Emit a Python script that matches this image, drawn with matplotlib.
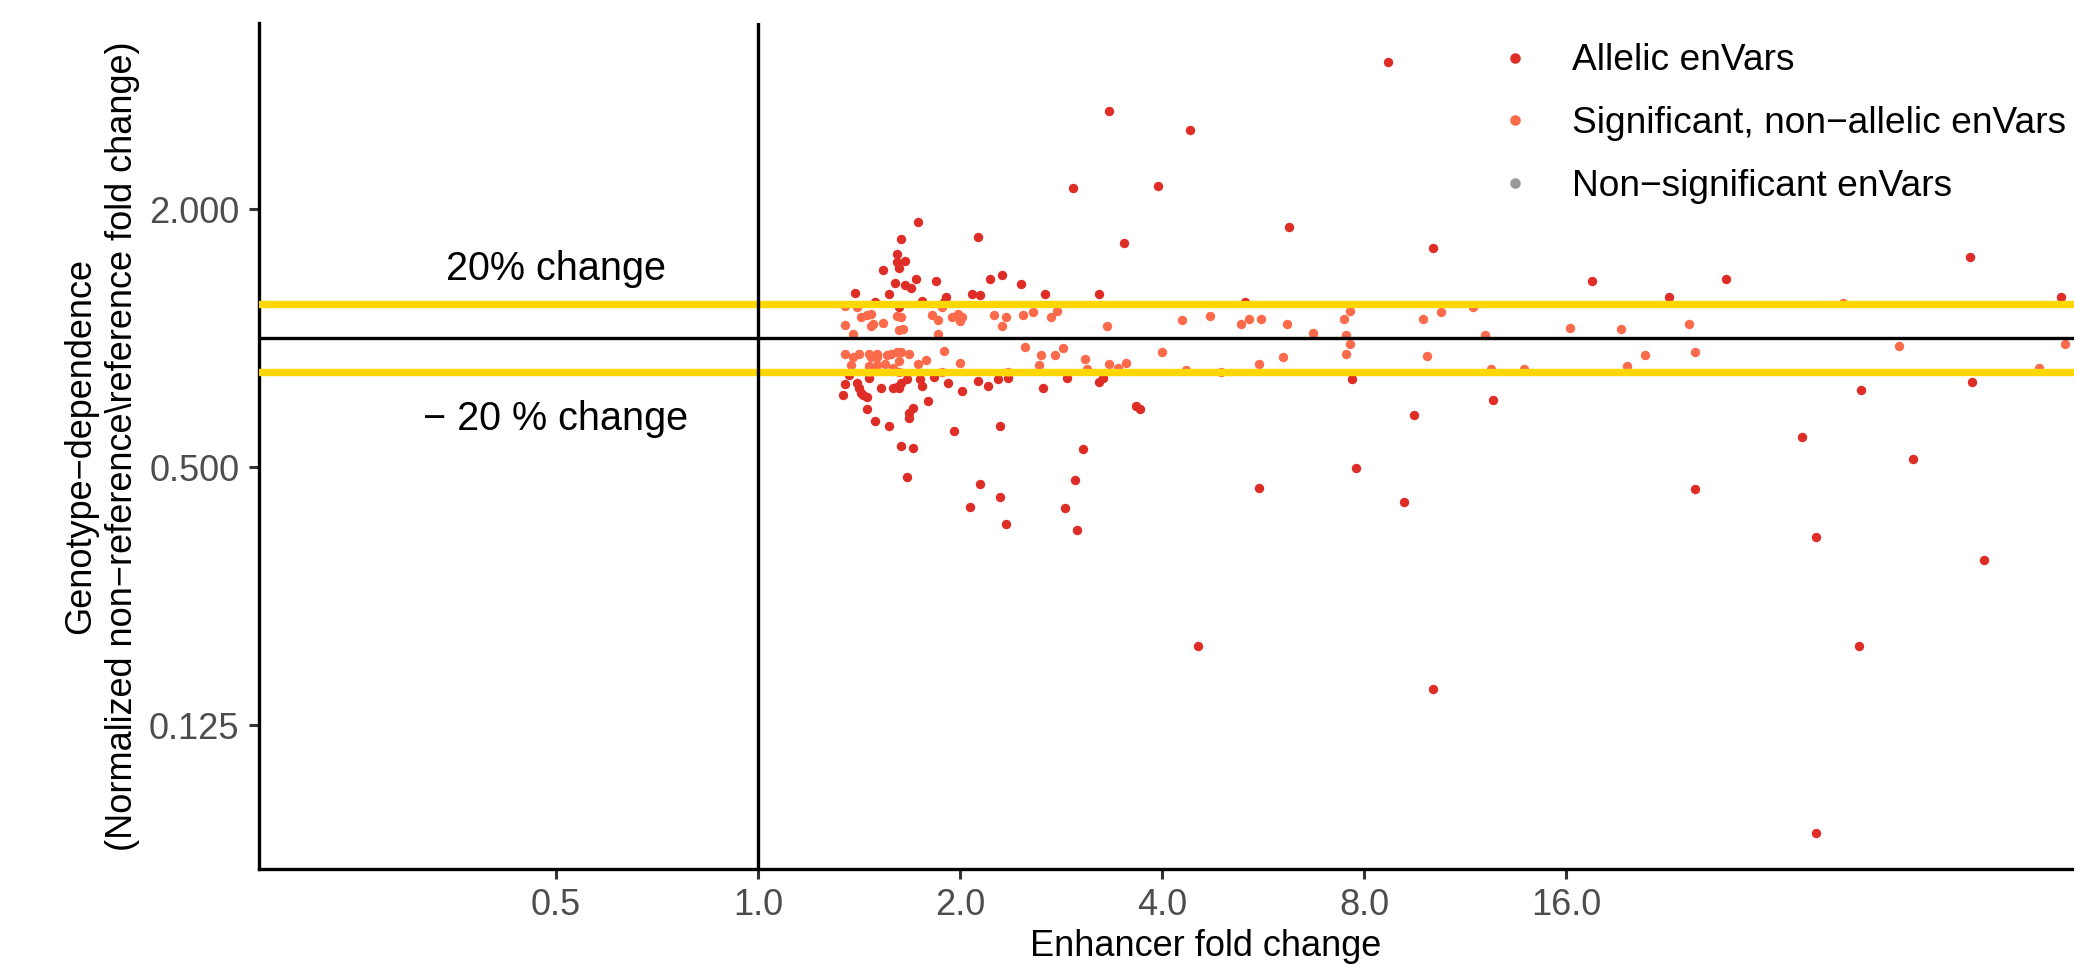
import numpy as np
import matplotlib
matplotlib.use("Agg")
import matplotlib.pyplot as plt
from matplotlib.lines import Line2D

plt.rcParams['font.family'] = ['Liberation Sans', 'DejaVu Sans']

# ---------------- data (log2 values) ----------------
# Allelic enVars
allelic_log2_fc = [1.74, 2.14, 1.56, 1.98, 2.63, 1.81, 0.79, 0.71, 1.09, 0.69,
                   0.69, 0.73, 0.70, 0.62, 0.78, 0.68, 0.73, 0.76, 0.88, 1.15,
                   1.21, 1.30, 0.48, 0.65, 0.93, 1.06, 1.10, 1.42, 1.69, 2.41,
                   0.58, 0.81, 0.92, 0.70,
                   0.55, 0.45, 0.43, 0.42, 0.49, 0.50, 0.51, 0.52, 0.54, 0.54,
                   0.58, 0.65, 0.61, 0.67, 0.69, 0.71, 0.70, 0.74, 0.80, 0.81,
                   0.87, 0.94, 1.01, 0.84, 0.77, 0.75, 0.75, 0.97, 1.20, 1.09,
                   1.14, 1.19, 1.24, 1.41, 1.53, 1.69, 1.71, 1.87, 1.89,
                   0.71, 0.77, 1.61, 0.74, 1.10, 1.20, 1.05, 1.23, 1.57, 1.52,
                   1.58, 2.48, 2.18,
                   3.12, 3.34, 4.13, 4.51, 4.79, 2.94, 3.64, 3.25,
                   2.96, 3.20, 3.34, 4.64,
                   6.00, 6.45, 6.01, 5.46, 5.17, 5.72, 5.24, 6.07, 5.45, 5.24]
allelic_log2_gd = [1.76, 1.61, 1.16, 1.18, 0.86, 0.74, 0.90, 0.77, 0.78, 0.65,
                   0.59, 0.60, 0.54, 0.53, 0.46, 0.43, 0.41, 0.39, 0.44, 0.46,
                   0.49, 0.42, 0.35, 0.34, 0.32, 0.34, 0.33, 0.34, 0.34, 0.28,
                   0.28, 0.29, 0.28, 0.24,
                   -0.31, -0.29, -0.36, -0.44, -0.35, -0.39, -0.43, -0.44, -0.46, -0.55,
                   -0.64, -0.68, -0.39, -0.39, -0.38, -0.35, -0.39, -0.32, -0.32, -0.37,
                   -0.30, -0.35, -0.41, -0.49, -0.54, -0.58, -0.62, -0.72, -0.68, -0.33,
                   -0.37, -0.32, -0.31, -0.39, -0.31, -0.34, -0.31, -0.53, -0.55,
                   -0.84, -0.85, -0.86, -1.08, -1.13, -1.23, -1.31, -1.44, -1.10, -1.32,
                   -1.49, -1.16, -2.39,
                   2.14, 0.70, 0.44, 0.32, 0.46, -0.32, -0.48, -0.60,
                   -1.01, -1.27, -2.72, -1.17,
                   0.63, 0.32, -0.34, -0.40, -0.77, -0.94, -1.54, -1.72, -2.39, -3.84]

# Significant, non-allelic enVars
sig_log2_fc = [0.43, 0.49, 0.51, 0.54, 0.56, 0.43, 0.47, 0.56, 0.57, 0.62,
               0.69, 0.71, 0.70, 0.72, 0.86, 0.89, 0.89, 0.91, 0.96, 0.99,
               1.00, 1.01, 1.17, 1.23, 1.21, 1.31, 1.36, 1.45, 1.48, 1.73,
               2.10, 2.24, 2.39, 2.43, 2.49, 2.62, 2.75,
               2.93, 2.90, 2.91, 2.93, 2.91, 3.29, 3.38, 3.54, 3.60, 3.31,
               3.63, 3.79, 4.02, 4.27, 4.61, 4.39, 4.64, 4.30,
               5.37, 5.65, 6.34, 6.47,
               0.43, 0.47, 0.50, 0.55, 0.56, 0.59, 0.59, 0.64, 0.66, 0.69,
               0.71, 0.75, 0.46, 0.55, 0.59, 0.63, 0.70, 0.67, 0.79, 0.83,
               0.92, 1.00, 1.32, 1.40, 1.47, 1.51, 1.39, 1.62, 1.74, 1.78,
               1.82, 2.00, 2.48, 2.60, 1.63, 2.12, 2.29, 1.24, 0.91, 0.55, 0.70]
sig_log2_gd = [0.25, 0.24, 0.16, 0.18, 0.19, 0.10, 0.03, 0.09, 0.11, 0.12,
               0.17, 0.16, 0.06, 0.07, 0.18, 0.14, 0.03, 0.24, 0.16, 0.19,
               0.13, 0.16, 0.18, 0.16, 0.09, 0.18, 0.20, 0.16, 0.21, 0.09,
               0.14, 0.17, 0.11, 0.15, 0.15, 0.11, 0.04,
               0.21, 0.15, 0.02, -0.05, -0.12, 0.15, 0.20, 0.24, 0.02, -0.14,
               -0.24, -0.24, 0.08, 0.07, 0.11, -0.13, -0.11, -0.22,
               0.27, -0.06, -0.23, -0.05,
               -0.12, -0.15, -0.12, -0.12, -0.15, -0.12, -0.15, -0.13, -0.12, -0.11,
               -0.11, -0.12, -0.21, -0.22, -0.21, -0.20, -0.18, -0.23, -0.20, -0.17,
               -0.10, -0.19, -0.07, -0.13, -0.13, -0.08, -0.21, -0.16, -0.20, -0.23,
               -0.19, -0.11, -0.20, -0.15, -0.24, -0.25, -0.26, -0.26, -0.26, -0.26, -0.26]

# Non-significant enVars (none visible in the reference)
nonsig_log2_fc = []
nonsig_log2_gd = []

categories = ["Allelic enVars", "Significant, non\u2212allelic enVars",
              "Non\u2212significant enVars"]
colors = ["#DE2D26", "#FB6A4A", "#999999"]

x_ticks = [0.5, 1.0, 2.0, 4.0, 8.0, 16.0]
y_ticks = [0.125, 0.5, 2.0]
change_threshold = 1.2

# ---------------- figure ----------------
W, H = 2074, 966
fig = plt.figure(figsize=(W / 100, H / 100), dpi=100)
left_px, right_px, top_px, bottom_px = 259, 2153, 23, 869
ax = fig.add_axes([left_px / W, (H - bottom_px) / H,
                   (right_px - left_px) / W, (bottom_px - top_px) / H])

series = [(allelic_log2_fc, allelic_log2_gd),
          (sig_log2_fc, sig_log2_gd),
          (nonsig_log2_fc, nonsig_log2_gd)]
for (fx, gy), c in zip(series, colors):
    ax.scatter(2.0 ** np.asarray(fx, dtype=float), 2.0 ** np.asarray(gy, dtype=float),
               s=46, color=c, linewidths=0, zorder=2)

ax.set_xscale('log', base=2)
ax.set_yscale('log', base=2)
ax.set_xlim(2 ** -2.47, 2 ** 6.906)
ax.set_ylim(2 ** -4.116, 2 ** 2.442)

ax.axhline(change_threshold, color='#FFD700', lw=5.3, zorder=3)
ax.axhline(1 / change_threshold, color='#FFD700', lw=5.3, zorder=3)
ax.axhline(1.0, color='black', lw=2.4, zorder=4)
ax.axvline(1.0, color='black', lw=2.4, zorder=4)

ax.set_xticks(x_ticks)
ax.set_xticklabels([f"{t:.1f}" for t in x_ticks])
ax.set_yticks(y_ticks)
ax.set_yticklabels([f"{t:.3f}" for t in y_ticks])
ax.minorticks_off()
ax.tick_params(axis='both', which='major', length=7, width=2.2, color='#333333',
               labelcolor='#4D4D4D', labelsize=26)
ax.tick_params(axis='x', pad=6.5)
ax.tick_params(axis='y', pad=7)

for s in ['top', 'right']:
    ax.spines[s].set_visible(False)
for s in ['left', 'bottom']:
    ax.spines[s].set_linewidth(2.4)
    ax.spines[s].set_color('black')

ax.text(0.5, 2 ** 0.535, "20% change", ha='center', va='center', fontsize=28.5,
        color='black')
ax.text(0.5, 2 ** -0.628, "\u2212 20 % change", ha='center', va='center', fontsize=28.5,
        color='black')

fig.text(1206 / W, 1 - 946 / H, "Enhancer fold change", ha='center', va='center',
         fontsize=26, color='black')
fig.text(102 / W, 1 - 446 / H,
         "Genotype\u2212dependence\n(Normalized non\u2212reference\\reference fold change)",
         rotation=90, ha='center', va='center', multialignment='center',
         fontsize=26, linespacing=1.25, color='black')

handles = [Line2D([], [], marker='o', linestyle='', markersize=7.6,
                  markerfacecolor=c, markeredgewidth=0) for c in colors]
fig.legend(handles, categories, loc='upper left',
           bbox_to_anchor=(1496.6 / W, 1 - 43.5 / H), frameon=False,
           fontsize=26.7, handlelength=1.0, handletextpad=1.02,
           labelspacing=0.745, borderpad=0, borderaxespad=0)

fig.savefig("out.png", dpi=100)
